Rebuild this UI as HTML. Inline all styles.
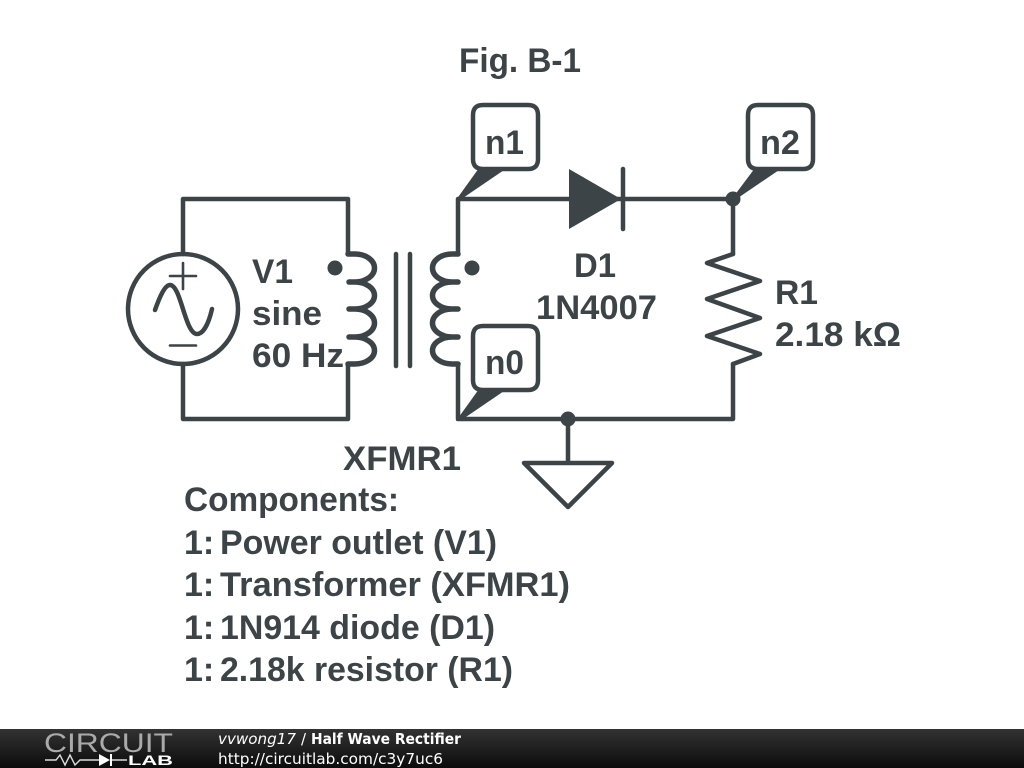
<!DOCTYPE html>
<html><head><meta charset="utf-8"><style>
html,body{margin:0;padding:0;background:#fff}
svg{display:block}
text{font-family:"Liberation Sans",sans-serif;font-weight:bold;font-size:34px;fill:#3c4447}
.f{font-family:"DejaVu Sans",sans-serif;font-size:15px;fill:#fff;font-weight:normal}
</style></head><body>
<svg width="1024" height="768" viewBox="0 0 1024 768" xmlns="http://www.w3.org/2000/svg">
<defs><linearGradient id="g" x1="0" y1="0" x2="0" y2="1"><stop offset="0" stop-color="#333"/><stop offset="1" stop-color="#0c0c0c"/></linearGradient></defs>
<rect width="1024" height="768" fill="#fff"/>
<g fill="none" stroke="#3c4447" stroke-width="4.5" stroke-linecap="round" stroke-linejoin="round">
<path d="M183 254V199H348V254M183 364V419H348V364"/>
<circle cx="183" cy="309" r="55"/>
<path stroke-width="2.6" d="M170 276H196M183 263V289M170 345.5H196"/>
<path d="M155 310C160 296 165 285 170 285C181 285 185 334 197 334C204 334 209 322 212 309"/>
<path stroke-width="5.5" d="M348 254H355A19.5 14 0 0 1 355 282H349M355 282A19.5 13.5 0 0 1 355 309H349M355 309A19.5 14 0 0 1 355 337H349M355 337A19.5 13.5 0 0 1 355 364H348"/>
<path stroke-width="5.5" d="M458 254H452A19.5 14 0 0 0 452 282H458M452 282A19.5 13.5 0 0 0 452 309H458M452 309A19.5 14 0 0 0 452 337H458M452 337A19.5 13.5 0 0 0 452 364H458"/>
<path d="M396 254V366M410 254V366"/>
<path d="M458 254V199H733V254M458 364V419H733V364"/>
<path d="M733 254L707 263L760 281L707 299L760 318L707 336L760 354L733 364"/>
<path d="M623 169V229"/>
<path d="M568 419V463M524 463H612L568 507Z"/>
<path fill="#fff" d="M473 115Q473 105 483 105H528Q538 105 538 115V159Q538 169 528 169H483Q473 169 473 159Z"/>
<path fill="#fff" d="M748 115Q748 105 758 105H803Q813 105 813 115V159Q813 169 803 169H758Q748 169 748 159Z"/>
<path fill="#fff" d="M473 336Q473 326 483 326H528Q538 326 538 336V380Q538 390 528 390H483Q473 390 473 380Z"/>
</g>
<g fill="#3c4447">
<path d="M569 169L621 199L569 229Z"/>
<circle cx="335" cy="268" r="7.5"/><circle cx="472" cy="268" r="7.5"/>
<circle cx="733" cy="199" r="7.5"/><circle cx="568" cy="419" r="7.5"/>
<path d="M456 200L479 168H507L460 200Z"/>
<path d="M731 200L755 168H782L735 200Z"/>
<path d="M456 421L479 389H507L460 421Z"/>
</g>
<g>
<text x="459" y="72" textLength="122" lengthAdjust="spacingAndGlyphs">Fig. B-1</text>
<text x="485" y="154" textLength="39" lengthAdjust="spacingAndGlyphs">n1</text>
<text x="760" y="154" textLength="40" lengthAdjust="spacingAndGlyphs">n2</text>
<text x="485" y="374" textLength="39" lengthAdjust="spacingAndGlyphs">n0</text>
<text x="252" y="283" textLength="41" lengthAdjust="spacingAndGlyphs">V1</text>
<text x="252" y="325" textLength="70" lengthAdjust="spacingAndGlyphs">sine</text>
<text x="252" y="367" textLength="92" lengthAdjust="spacingAndGlyphs">60 Hz</text>
<text x="574" y="277" textLength="42" lengthAdjust="spacingAndGlyphs">D1</text>
<text x="536" y="319" textLength="121" lengthAdjust="spacingAndGlyphs">1N4007</text>
<text x="775" y="304" textLength="43" lengthAdjust="spacingAndGlyphs">R1</text>
<text x="775" y="346" textLength="126" lengthAdjust="spacingAndGlyphs">2.18 kΩ</text>
<text x="343" y="470" textLength="118" lengthAdjust="spacingAndGlyphs">XFMR1</text>
<text x="184" y="511" textLength="215" lengthAdjust="spacingAndGlyphs">Components:</text>
<text x="184" y="554">1:</text><text x="220" y="554" textLength="277" lengthAdjust="spacingAndGlyphs">Power outlet (V1)</text>
<text x="184" y="596">1:</text><text x="220" y="596" textLength="350" lengthAdjust="spacingAndGlyphs">Transformer (XFMR1)</text>
<text x="184" y="639">1:</text><text x="220" y="639" textLength="275" lengthAdjust="spacingAndGlyphs">1N914 diode (D1)</text>
<text x="184" y="681">1:</text><text x="220" y="681" textLength="293" lengthAdjust="spacingAndGlyphs">2.18k resistor (R1)</text>
</g>
<rect y="729" width="1024" height="39" fill="url(#g)"/>
<text x="44" y="752" style="font-size:27px;font-weight:normal;fill:#aaa" textLength="129" lengthAdjust="spacingAndGlyphs">CIRCUIT</text>
<text x="128" y="765" style="font-size:14px;font-weight:bold;fill:#fff" textLength="45" lengthAdjust="spacingAndGlyphs">LAB</text>
<path d="M45 760H56L60 755L65 765L70 755L75 765L80 760H99M112 760H127" fill="none" stroke="#ddd" stroke-width="1.4"/>
<path d="M99 754L110 760L99 766Z M110 754H112V766H110Z" fill="#fff"/>
<text class="f" x="218" y="744" font-style="italic" textLength="78" lengthAdjust="spacingAndGlyphs">vvwong17</text>
<text class="f" x="301" y="744">/</text>
<text class="f" x="311" y="744" style="font-weight:bold" textLength="150" lengthAdjust="spacingAndGlyphs">Half Wave Rectifier</text>
<text class="f" x="218" y="764" textLength="225" lengthAdjust="spacingAndGlyphs">http://circuitlab.com/c3y7uc6</text>
</svg>
</body></html>
